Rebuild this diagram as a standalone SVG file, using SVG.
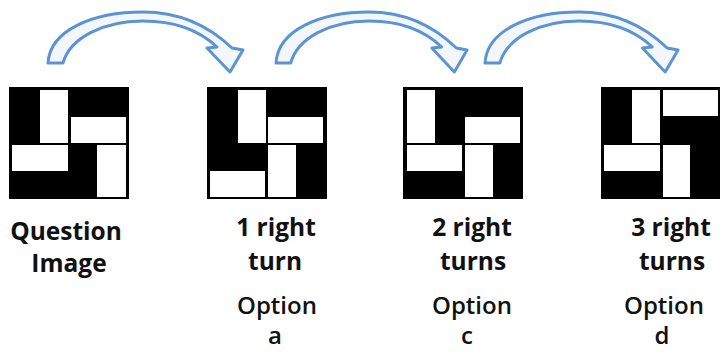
<svg xmlns="http://www.w3.org/2000/svg" width="720" height="352" viewBox="0 0 720 352">
<style>
  .sq{fill:#000}
  .w{fill:#fff}
  .arr{fill:#f3f7fc;stroke:#5b93d3;stroke-width:3;stroke-linejoin:round}
  .b{font-family:"Open Sans","Liberation Sans",sans-serif;font-weight:700;font-size:24.5px;fill:#111;text-anchor:middle}
  .r{font-family:"Open Sans","Liberation Sans",sans-serif;font-weight:600;font-size:24px;fill:#111;text-anchor:middle}
</style>
<defs>
  <path id="curve" class="arr" d="M0,63 C2,30 45,12 95,12 C135,12 163,28 184,48 L195,50 L182,72 L159,48 L169,47 C152,31 128,21 95,21 C55,21 22,38 15,63 Z"/>
</defs>
<rect width="720" height="352" fill="#fff"/>

<g id="connectors">
  <use href="#curve" transform="translate(48,0)"/>
  <use href="#curve" transform="translate(276,0) scale(0.98,1)"/>
  <use href="#curve" transform="translate(485,0) scale(0.99,1)"/>
</g>

<g id="question" transform="translate(9,87)">
  <rect class="sq" width="120" height="112"/>
  <rect class="w" x="31" y="3" width="28" height="53"/>
  <rect class="w" x="62" y="30" width="55" height="26"/>
  <rect class="w" x="3" y="58" width="56" height="26"/>
  <rect class="w" x="88" y="58" width="29" height="52"/>
</g>
<g id="option-a" transform="translate(207,87)">
  <rect class="sq" width="120" height="112"/>
  <rect class="w" x="31" y="3" width="28" height="53"/>
  <rect class="w" x="61" y="30" width="55" height="26"/>
  <rect class="w" x="3" y="84" width="55" height="26"/>
  <rect class="w" x="61" y="58" width="28" height="52"/>
</g>
<g id="option-c" transform="translate(403,87)">
  <rect class="sq" width="120" height="112"/>
  <rect class="w" x="4" y="3" width="28" height="53"/>
  <rect class="w" x="62" y="30" width="55" height="26"/>
  <rect class="w" x="4" y="58" width="55" height="26"/>
  <rect class="w" x="62" y="58" width="28" height="52"/>
</g>
<g id="option-d" transform="translate(601,87)">
  <rect class="sq" width="119" height="112"/>
  <rect class="w" x="31" y="3" width="28" height="53"/>
  <rect class="w" x="62" y="3" width="55" height="26"/>
  <rect class="w" x="3" y="58" width="56" height="26"/>
  <rect class="w" x="62" y="58" width="27" height="52"/>
</g>

<g id="labels">
  <text class="b" x="66" y="240">Question</text>
  <text class="b" x="69" y="272">Image</text>
  <text class="b" x="276" y="236">1 right</text>
  <text class="b" x="275" y="270">turn</text>
  <text class="r" x="277" y="314">Option</text>
  <text class="r" x="275" y="344">a</text>
  <text class="b" x="472" y="236">2 right</text>
  <text class="b" x="473" y="270">turns</text>
  <text class="r" x="472" y="314">Option</text>
  <text class="r" x="467" y="344">c</text>
  <text class="b" x="671" y="236">3 right</text>
  <text class="b" x="672" y="270">turns</text>
  <text class="r" x="664" y="314">Option</text>
  <text class="r" x="662" y="344">d</text>
</g>
</svg>
